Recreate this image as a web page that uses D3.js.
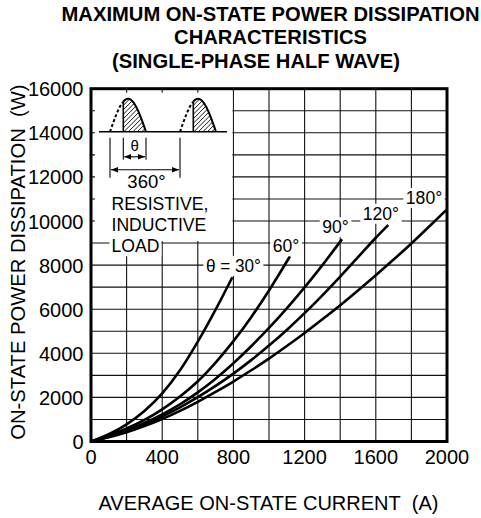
<!DOCTYPE html>
<html>
<head>
<meta charset="utf-8">
<script src="https://cdn.jsdelivr.net/npm/d3@7"></script>
<style>
  body { margin: 0; background: #fff; }
  svg { display: block; font-family: "Liberation Sans", Arial, sans-serif; }
</style>
</head>
<body>
<div id="chart"></div>
<script>
// curves: average current (A) -> on-state power (W)
const current30 = [0, 100, 200, 300, 400, 500, 600, 700, 794]
const power30 = [0, 330, 780, 1380, 2180, 3230, 4530, 5980, 7450]

const current60 = [0, 100, 200, 300, 400, 500, 600, 700, 800, 900, 1000, 1118]
const power60 = [0, 270, 590, 980, 1460, 2040, 2730, 3580, 4550, 5640, 6850, 8400]

const current90 = [0, 100, 200, 300, 400, 500, 600, 700, 800, 900, 1000, 1100, 1200, 1300, 1410]
const power90 = [0, 230, 510, 840, 1230, 1690, 2230, 2850, 3550, 4320, 5150, 6040, 6990, 8000, 9170]

const current120 = [0, 100, 200, 300, 400, 500, 600, 700, 800, 900, 1000, 1100, 1200, 1300, 1400, 1500, 1600, 1670]
const power120 = [0, 210, 470, 780, 1140, 1550, 2010, 2520, 3080, 3690, 4350, 5060, 5820, 6630, 7480, 8360, 9240, 9820]

const current180 = [0, 100, 200, 300, 400, 500, 600, 700, 800, 900, 1000, 1100, 1200, 1300, 1400, 1500, 1600, 1700, 1800, 1900, 2000]
const power180 = [0, 190, 420, 700, 1020, 1390, 1800, 2250, 2720, 3230, 3760, 4330, 4920, 5540, 6180, 6850, 7540, 8250, 8980, 9750, 10530]

const curveLabels = ['\u03b8 = 30\u00b0', '60\u00b0', '90\u00b0', '120\u00b0', '180\u00b0']
const labelCurrent = [800, 1096, 1374, 1629, 1871]
const labelPower = [7980, 8870, 9730, 10340, 11060]

const xTicks = [0, 400, 800, 1200, 1600, 2000]
const yTicks = [0, 2000, 4000, 6000, 8000, 10000, 12000, 14000, 16000]

const titleLines = ['MAXIMUM ON-STATE POWER DISSIPATION', 'CHARACTERISTICS', '(SINGLE-PHASE HALF WAVE)']
const loadLines = ['RESISTIVE,', 'INDUCTIVE', 'LOAD']

const series = [
  {x: current30, y: power30},
  {x: current60, y: power60},
  {x: current90, y: power90},
  {x: current120, y: power120},
  {x: current180, y: power180}
]

const width = 481, height = 518
const margin = {top: 88.7, right: 34, bottom: 76.5, left: 91}

const svg = d3.select('#chart').append('svg')
  .attr('width', width)
  .attr('height', height)

const x = d3.scaleLinear().domain([0, 2000]).range([margin.left, width - margin.right])
const y = d3.scaleLinear().domain([0, 16000]).range([height - margin.bottom, margin.top])

// title
svg.append('g').selectAll('text')
  .data(titleLines)
  .join('text')
  .attr('x', (d, i) => i == 2 ? 256 : 270.5)
  .attr('y', (d, i) => 21 + i * 23.3)
  .attr('text-anchor', 'middle')
  .attr('font-weight', 'bold')
  .attr('font-size', 20.2)
  .text(d => d)

// grid
const grid = svg.append('g').attr('stroke', '#111').attr('stroke-width', 1.1)
grid.selectAll('line.v')
  .data(d3.range(200, 2000, 200))
  .join('line')
  .attr('class', 'v')
  .attr('x1', d => x(d)).attr('x2', d => x(d))
  .attr('y1', y(0)).attr('y2', y(16000))
grid.selectAll('line.h')
  .data(d3.range(1000, 16000, 1000))
  .join('line')
  .attr('class', 'h')
  .attr('x1', x(0)).attr('x2', x(2000))
  .attr('y1', d => y(d)).attr('y2', d => y(d))

// inset panel blanks the grid (keeping short stubs at the frame)
svg.append('rect')
  .attr('x', x(0) + 4)
  .attr('y', y(16000) + 4)
  .attr('width', x(800) - x(0) - 5)
  .attr('height', y(9000) - y(16000) - 6)
  .attr('fill', '#fff')

// axes tick labels
svg.append('g').selectAll('text')
  .data(xTicks)
  .join('text')
  .attr('x', d => x(d))
  .attr('y', y(0) + 22)
  .attr('text-anchor', 'middle')
  .attr('font-size', 20)
  .text(d => d)

svg.append('g').selectAll('text')
  .data(yTicks)
  .join('text')
  .attr('x', x(0) - 7.5)
  .attr('y', d => y(d) + 7.5)
  .attr('text-anchor', 'end')
  .attr('font-size', 20)
  .text(d => d)

svg.append('text')
  .attr('x', (x(0) + x(2000)) / 2 - 0.5)
  .attr('y', 510)
  .attr('text-anchor', 'middle')
  .attr('font-size', 20)
  .text('AVERAGE ON-STATE CURRENT\u00a0\u00a0(A)')

svg.append('text')
  .attr('transform', `translate(25,${(y(0) + y(16000)) / 2 - 3}) rotate(-90)`)
  .attr('text-anchor', 'middle')
  .attr('font-size', 20.2)
  .text('ON-STATE POWER DISSIPATION\u00a0\u00a0(W)')

// helper: text with white box behind it
function boxedText(g, tx, ty, str, anchor, size, pad, len) {
  const t = g.append('text')
    .attr('x', tx).attr('y', ty)
    .attr('text-anchor', anchor)
    .attr('font-size', size)
    .text(str)
  if (len) t.attr('textLength', len).attr('lengthAdjust', 'spacingAndGlyphs')
  const b = t.node().getBBox()
  g.insert('rect', 'text')
    .attr('x', b.x - pad).attr('y', b.y)
    .attr('width', b.width + pad * 2).attr('height', b.height)
    .attr('fill', '#fff')
  return t
}

// inset sketch: half wave pulses with conduction angle
const ox = x(0), oy = y(14000) - 1
const inset = svg.append('g').attr('transform', `translate(${ox},${oy})`)
const pulseStarts = [19, 89]
const halfW = 36, peak = 33, thetaOff = 13.3

const defs = svg.append('defs')
defs.append('marker')
  .attr('id', 'arr')
  .attr('viewBox', '0 0 10 10')
  .attr('refX', 10).attr('refY', 5)
  .attr('markerWidth', 7).attr('markerHeight', 7)
  .attr('markerUnits', 'userSpaceOnUse')
  .attr('orient', 'auto-start-reverse')
  .append('path').attr('d', 'M0,1L10,5L0,9Z').attr('fill', '#000')

inset.append('line')
  .attr('x1', 8).attr('x2', 136).attr('y1', 0).attr('y2', 0)
  .attr('stroke', '#000').attr('stroke-width', 1.6)

const wave = (s, a, b) => d3.range(a, b + 0.01, 0.5).map(t => [s + t, -peak * Math.sin(Math.PI * t / halfW)])

pulseStarts.forEach((s, i) => {
  const solid = wave(s, thetaOff, halfW)
  const clipId = 'clip' + i
  defs.append('clipPath').attr('id', clipId)
    .append('path').attr('d', d3.line()(solid.concat([[s + thetaOff, 0]])) + 'Z')
  const hatch = inset.append('g').attr('clip-path', `url(#${clipId})`)
  d3.range(-40, 40, 4.5).forEach(k => {
    hatch.append('line')
      .attr('x1', s + thetaOff + k).attr('y1', 0)
      .attr('x2', s + thetaOff + k + 40).attr('y2', -40)
      .attr('stroke', '#000').attr('stroke-width', 0.9)
  })
  inset.append('path')
    .attr('d', d3.line()(wave(s, 0, thetaOff)))
    .attr('fill', 'none').attr('stroke', '#000').attr('stroke-width', 2)
    .attr('stroke-dasharray', '3,2.2')
  inset.append('path')
    .attr('d', d3.line()(solid))
    .attr('fill', 'none').attr('stroke', '#000').attr('stroke-width', 2)
  inset.append('line')
    .attr('x1', s + thetaOff).attr('x2', s + thetaOff)
    .attr('y1', 0).attr('y2', -peak * Math.sin(Math.PI * thetaOff / halfW))
    .attr('stroke', '#000').attr('stroke-width', 1.6)
})

const dim = inset.append('g').attr('stroke', '#000').attr('stroke-width', 1.1)
const s0 = pulseStarts[0]
;[[s0 + thetaOff, 28], [s0 + halfW, 28], [s0, 46], [pulseStarts[1], 46]].forEach(([dx, len]) => {
  dim.append('line').attr('x1', dx).attr('x2', dx).attr('y1', 6).attr('y2', len)
})
dim.append('line')
  .attr('x1', s0 + thetaOff + 1).attr('x2', s0 + halfW - 1).attr('y1', 25).attr('y2', 25)
  .attr('marker-start', 'url(#arr)').attr('marker-end', 'url(#arr)')
dim.append('line')
  .attr('x1', s0 + 1).attr('x2', pulseStarts[1] - 1).attr('y1', 38).attr('y2', 38)
  .attr('marker-start', 'url(#arr)').attr('marker-end', 'url(#arr)')

inset.append('text')
  .attr('x', s0 + thetaOff + (halfW - thetaOff) / 2).attr('y', 19.5)
  .attr('text-anchor', 'middle').attr('font-size', 15)
  .text('\u03b8')
inset.append('text')
  .attr('x', (s0 + pulseStarts[1]) / 2 + 1.5).attr('y', 56.5)
  .attr('text-anchor', 'middle').attr('font-size', 18.5)
  .text('360\u00b0')

const loadG = svg.append('g')
loadLines.forEach((l, i) => {
  boxedText(loadG, ox + 20.5, oy + 78.5 + i * 21, l, 'start', 17.6, 2)
})

// curves
const line = d3.line()
  .x(d => x(d[0]))
  .y(d => y(d[1]))
  .curve(d3.curveMonotoneX)

svg.append('g').selectAll('path')
  .data(series)
  .join('path')
  .attr('d', s => line(s.x.map((v, i) => [v, s.y[i]])))
  .attr('fill', 'none')
  .attr('stroke', '#000')
  .attr('stroke-width', 2.6)

// curve labels
const labG = svg.append('g')
curveLabels.forEach((l, i) => {
  boxedText(labG, x(labelCurrent[i]), y(labelPower[i]) + 6.3, l, 'middle', 17.6, 2.5, i == 0 ? 55 : null)
})

// frame
svg.append('rect')
  .attr('x', x(0)).attr('y', y(16000))
  .attr('width', x(2000) - x(0)).attr('height', y(0) - y(16000))
  .attr('fill', 'none')
  .attr('stroke', '#000')
  .attr('stroke-width', 3)
</script>
</body>
</html>
